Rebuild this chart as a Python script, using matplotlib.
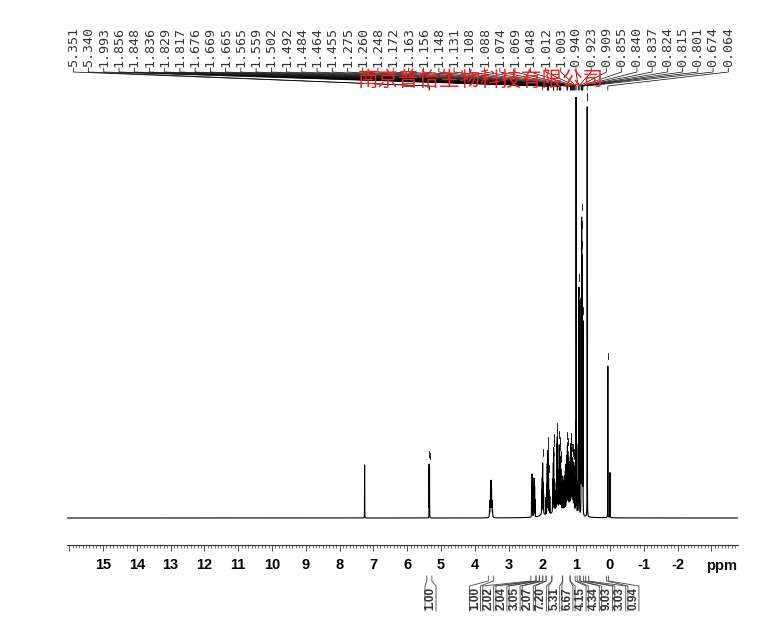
import numpy as np
import matplotlib
matplotlib.use("Agg")
import matplotlib.pyplot as plt
from matplotlib.ticker import MultipleLocator, FixedLocator, FixedFormatter

# picked peaks (labels across the top)
peak_labels = ["5.351", "5.340", "1.993", "1.856", "1.848", "1.836", "1.829", "1.817",
               "1.676", "1.669", "1.665", "1.565", "1.559", "1.502", "1.492", "1.484",
               "1.464", "1.455", "1.275", "1.260", "1.248", "1.172", "1.163", "1.156",
               "1.148", "1.131", "1.108", "1.088", "1.074", "1.069", "1.048", "1.012",
               "1.003", "0.940", "0.923", "0.909", "0.855", "0.840", "0.837", "0.824",
               "0.815", "0.801", "0.674", "0.064"]
peak_ppm = [float(s) for s in peak_labels]

# resonance lines: shift (ppm), height (% of tallest)
solvent_ppm = [7.26, 5.351, 5.340]
solvent_height = [12.6, 12.5, 12.0]

h3_ppm = [3.565, 3.55, 3.535, 3.52, 3.505, 3.49, 3.475]
h3_height = [1.5, 3.5, 6.0, 8.0, 6.0, 3.5, 1.5]

aliph_ppm = [2.32, 2.305, 2.29, 2.26, 2.245, 2.23, 2.215,
             2.02, 2.005, 1.993, 1.98, 1.965,
             1.90, 1.87, 1.856, 1.848, 1.836, 1.829, 1.817, 1.80, 1.78,
             1.70, 1.685, 1.676, 1.669, 1.665, 1.65, 1.63, 1.61,
             1.59, 1.575, 1.565, 1.559, 1.54, 1.52, 1.502, 1.492, 1.484, 1.464, 1.455, 1.44,
             1.42, 1.40, 1.38, 1.36, 1.34, 1.32, 1.30,
             1.29, 1.275, 1.260, 1.248, 1.235, 1.22, 1.20, 1.19,
             1.172, 1.163, 1.156, 1.148, 1.14, 1.131, 1.12, 1.108, 1.098, 1.088,
             1.074, 1.069, 1.06, 1.048, 1.03]
aliph_height = [8.0, 10.0, 7.0, 6.0, 9.0, 7.0, 4.0,
                5.5, 8.0, 11.5, 7.0, 4.5,
                4.0, 7.0, 11.0, 14.0, 12.0, 10.0, 8.0, 5.5, 4.0,
                4.5, 7.0, 10.0, 12.0, 11.0, 7.0, 4.5, 3.5,
                6.0, 10.0, 13.5, 15.5, 9.0, 8.0, 14.5, 12.5, 11.5, 10.0, 9.0, 6.0,
                5.0, 8.0, 6.0, 7.0, 8.0, 9.0, 10.0,
                10.0, 12.0, 14.0, 12.5, 11.0, 10.0, 9.0, 10.0,
                11.0, 11.5, 12.5, 11.5, 10.0, 11.0, 9.0, 11.5, 9.0, 10.5,
                10.0, 9.0, 7.0, 8.0, 6.0]

methyl_ppm = [1.012, 1.003, 0.995, 0.98,
              0.960, 0.940, 0.923, 0.909,
              0.855, 0.840, 0.837, 0.824, 0.815, 0.801,
              0.674, 0.064, 0.0]
methyl_height = [18.0, 100.0, 9.0, 7.0,
                 6.0, 16.0, 53.0, 50.0,
                 50.0, 56.0, 50.0, 58.0, 52.0, 45.0,
                 97.4, 36.0, 10.7]

# broad envelope under the aliphatic multiplets
hump_ppm = [1.55, 1.20, 2.00]
hump_height = [1.8, 2.2, 0.8]
hump_hwhm = [0.20, 0.12, 0.06]

# integrals: value, left and right limits (ppm)
integral_values = ["1.00", "1.00", "2.02", "2.04", "3.05", "2.07", "7.20", "5.31",
                   "6.67", "4.15", "4.34", "9.03", "3.03", "0.94"]
integral_left = [5.42, 3.60, 2.34, 2.19, 2.09, 1.99, 1.89, 1.72, 1.40, 1.18, 0.97, 0.89, 0.72, 0.10]
integral_right = [5.27, 3.45, 2.19, 2.09, 1.99, 1.89, 1.72, 1.40, 1.18, 1.03, 0.89, 0.78, 0.63, 0.04]

tick_values = list(range(16, -4, -1))
tick_labels = ["" if v in (16, -3) else str(v) for v in tick_values]

watermark = "南京普怡生物科技有限公司"

W, H = 770, 641
fig = plt.figure(figsize=(W / 100, H / 100), dpi=100)
fig.patch.set_facecolor("white")

# spectrum: sum of Lorentzian lines
ax = fig.add_axes([67 / W, (H - 545) / H, (738 - 67) / W, (545 - 97) / H])
x = np.arange(16.065, -3.787, -0.0005)
y = np.zeros_like(x)
groups = [(solvent_ppm, solvent_height, 0.0018),
          (h3_ppm, h3_height, 0.004),
          (aliph_ppm, aliph_height, 0.002),
          (methyl_ppm, methyl_height, 0.0018),
          ]
for ppms, heights, w in groups:
    for p, h in zip(ppms, heights):
        y += h / (1 + ((x - p) / w) ** 2)
for p, h, w in zip(hump_ppm, hump_height, hump_hwhm):
    y += h / (1 + ((x - p) / w) ** 2)
ax.plot(x, y, color="black", lw=0.8)
ax.set_xlim(16.065, -3.787)
ax.set_ylim(-6.41, 100)
ax.patch.set_alpha(0)

for s in ("top", "left", "right"):
    ax.spines[s].set_visible(False)
ax.spines["bottom"].set_linewidth(0.8)
ax.spines["bottom"].set_color("#333333")
ax.set_yticks([])
ax.xaxis.set_major_locator(FixedLocator(tick_values))
ax.xaxis.set_major_formatter(FixedFormatter(tick_labels))
ax.xaxis.set_minor_locator(MultipleLocator(0.1))
ax.tick_params(axis="x", which="major", direction="out", length=4.5, width=0.6,
               color="#333333", pad=5, labelsize=10.5)
ax.tick_params(axis="x", which="minor", direction="out", length=2.2, width=0.5, color="#333333")
for t in ax.get_xticklabels():
    t.set_fontweight("bold")
    t.set_family(["Liberation Sans Narrow", "Liberation Sans", "DejaVu Sans"])

# overlay in pixel coordinates for the annotations
ov = fig.add_axes([0, 0, 1, 1])
ov.set_xlim(0, W)
ov.set_ylim(H, 0)
ov.axis("off")
ov.patch.set_alpha(0)


def to_px(p):
    return ax.transData.transform((p, 0))[0]


def px_y(v):
    return H - ax.transData.transform((0, v))[1]


ov.text(722, 566, "ppm", ha="center", va="center", fontsize=10.5, fontweight="bold",
        family=["Liberation Sans Narrow", "Liberation Sans", "DejaVu Sans"], color="#111111")

# peak labels and connector lines
label_x = np.linspace(73.3, 728.3, len(peak_labels))
for lx, lab, p in zip(label_x, peak_labels, peak_ppm):
    ov.text(lx, 67, lab, rotation=90, ha="center", va="bottom", fontsize=9.6,
            family="DejaVu Sans Mono", color="#333333")
    px = to_px(p)
    ov.plot([lx, lx, px, px], [68, 72, 86, 90], color="black", lw=0.5)
    # peak-pick marker just above the top of each picked line
    top = np.interp(-p, -x, y)
    if top + 1.6 < 100:
        ov.plot([px, px], [px_y(top + 3.2), px_y(top + 1.6)], color="black", lw=0.6)

ov.text((356.7 + 604) / 2, 80, watermark, ha="center", va="center", fontsize=14.8,
        color="#ff1a1a", family=["Noto Sans CJK SC", "DejaVu Sans"])

# integrals below the axis
int_x = [430.5] + list(np.linspace(475, 633.4, len(integral_values) - 1))
for lx, val, a, b in zip(int_x, integral_values, integral_left, integral_right):
    xa, xb = to_px(a), to_px(b)
    ov.plot([xa, xa, lx - 5.5, lx - 5.5], [576, 581, 586, 611], color="#444444", lw=0.6)
    ov.plot([xb, xb, lx + 5.5, lx + 5.5], [576, 581, 586, 611], color="#444444", lw=0.6)
    ov.text(lx, 598.5, val, rotation=90, ha="center", va="center", fontsize=8.5,
            fontweight="bold", family=["Liberation Sans", "DejaVu Sans"], color="#333333")

fig.savefig("out.png", dpi=100, facecolor="white")
